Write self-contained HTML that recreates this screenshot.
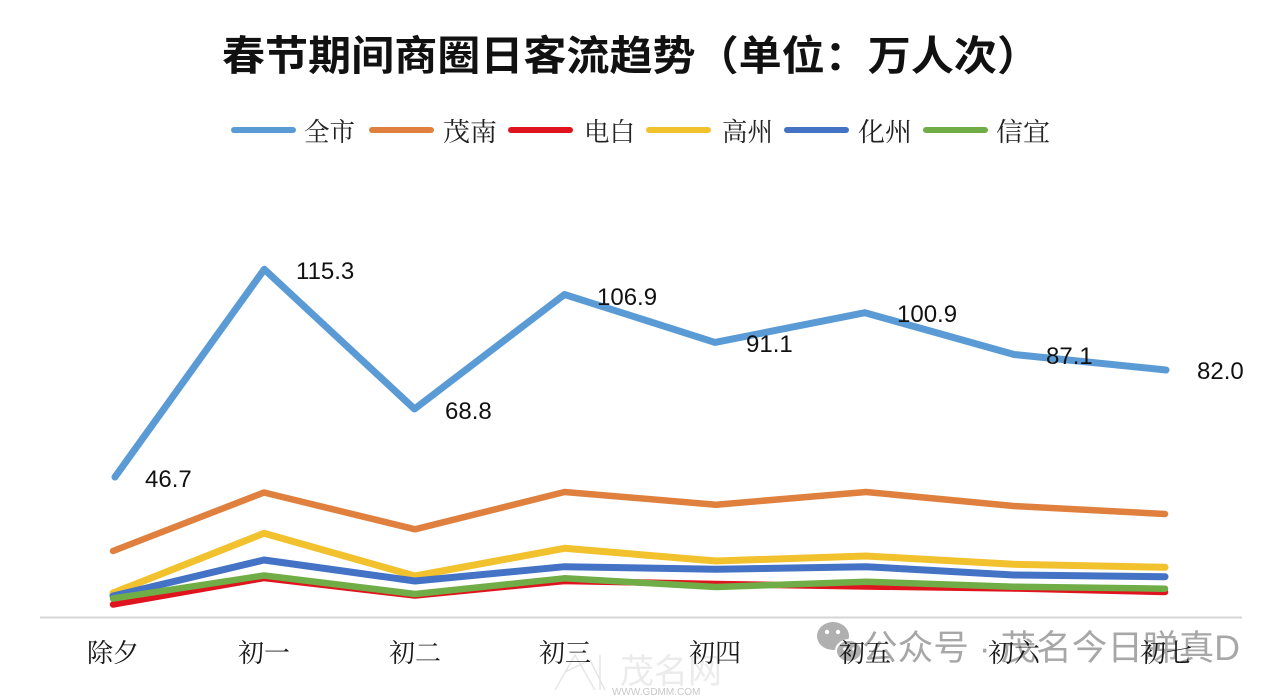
<!DOCTYPE html>
<html>
<head>
<meta charset="utf-8">
<style>
  html,body{margin:0;padding:0;background:#ffffff;}
  svg{display:block;}
</style>
</head>
<body>
<svg width="1280" height="697" viewBox="0 0 1280 697" xmlns="http://www.w3.org/2000/svg">
  <rect x="0" y="0" width="1280" height="697" fill="#ffffff"/>

  <!-- Title -->
  <text x="631" y="70" text-anchor="middle" font-family="'Liberation Sans','Noto Sans CJK SC',sans-serif" font-weight="700" font-size="41" fill="#111" textLength="818" lengthAdjust="spacingAndGlyphs">春节期间商圈日客流趋势（单位：万人次）</text>

  <!-- Legend -->
  <g stroke-width="6" stroke-linecap="round" fill="none">
    <line x1="234" y1="130" x2="293" y2="130" stroke="#5B9BD5"/>
    <line x1="372" y1="130" x2="431" y2="130" stroke="#E0803E"/>
    <line x1="511" y1="130" x2="570" y2="130" stroke="#E0141E"/>
    <line x1="649" y1="130" x2="708" y2="130" stroke="#F2C12E"/>
    <line x1="787" y1="130" x2="846" y2="130" stroke="#4472C4"/>
    <line x1="926" y1="130" x2="985" y2="130" stroke="#70AD47"/>
  </g>
  <g font-family="'Liberation Serif','Noto Serif CJK SC',serif" font-size="26" fill="#222">
    <text x="304" y="141" textLength="51" lengthAdjust="spacingAndGlyphs">全市</text>
    <text x="443" y="141" textLength="54" lengthAdjust="spacingAndGlyphs">茂南</text>
    <text x="584" y="141" textLength="51" lengthAdjust="spacingAndGlyphs">电白</text>
    <text x="722" y="141" textLength="51" lengthAdjust="spacingAndGlyphs">高州</text>
    <text x="858" y="141" textLength="54" lengthAdjust="spacingAndGlyphs">化州</text>
    <text x="996" y="141" textLength="54" lengthAdjust="spacingAndGlyphs">信宜</text>
  </g>

  <!-- Axis line -->
  <line x1="40" y1="617.5" x2="1242" y2="617.5" stroke="#d6d6d6" stroke-width="2"/>

  <!-- Series -->
  <g fill="none" stroke-linejoin="round" stroke-linecap="round">
    <polyline stroke="#5B9BD5" stroke-width="7" points="115,477 264.3,269.3 414.5,409 564.5,294.5 715,342.4 865,312.7 1014,354.5 1166,370"/>
    <polyline stroke="#E0803E" stroke-width="6.5" points="113,551 264,492.5 415,529.3 564.5,492 716,504.7 866,492 1013.5,506 1165,514"/>
    <polyline stroke="#E0141E" stroke-width="6.5" points="113,604.5 264,578 415,595.5 564.5,581 716,584 866,586.5 1013.5,588.5 1165,592"/>
    <polyline stroke="#F2C12E" stroke-width="7" points="113,593 264,533.3 415,576 564.5,548.3 716,561 866,556 1013.5,564.3 1165,567.3"/>
    <polyline stroke="#4472C4" stroke-width="7" points="113,596 264,560 415,581 564.5,566.7 716,569.3 866,566.7 1013.5,575 1165,576.7"/>
    <polyline stroke="#70AD47" stroke-width="6.5" points="113,598.5 264,575.5 415,594 564.5,578.3 716,587 866,581.7 1013.5,586.7 1165,588.7"/>
  </g>

  <!-- Data labels -->
  <g font-family="'Liberation Sans',sans-serif" font-size="24" fill="#111">
    <text x="145" y="487">46.7</text>
    <text x="296" y="279">115.3</text>
    <text x="445" y="419">68.8</text>
    <text x="597" y="305">106.9</text>
    <text x="746" y="352">91.1</text>
    <text x="897" y="322">100.9</text>
    <text x="1046" y="364">87.1</text>
    <text x="1197" y="379">82.0</text>
  </g>

  <!-- Watermark: GDMM logo (faint) -->
  <g opacity="0.25" stroke="#9a9a9a" stroke-width="1.5" fill="none">
    <path d="M555 690 L575 655 L595 690 M565 672 L590 660 L605 690 M600 655 L600 690"/>
  </g>
  <text x="620" y="683" font-family="'Liberation Sans','Noto Sans CJK SC',sans-serif" font-size="34" fill="#dcdcdc" opacity="0.55">茂名网</text>
  <text x="612" y="695" font-family="'Liberation Sans',sans-serif" font-size="10" fill="#c8c8c8">WWW.GDMM.COM</text>

  <!-- Watermark: WeChat -->
  <g fill="#a8a8a8" opacity="0.9">
    <ellipse cx="833" cy="636" rx="16" ry="14"/>
    <ellipse cx="849" cy="651" rx="13" ry="11" stroke="#fff" stroke-width="2"/>
    <circle cx="827" cy="632" r="2.2" fill="#fff"/>
    <circle cx="838" cy="632" r="2.2" fill="#fff"/>
    <circle cx="845" cy="649" r="1.8" fill="#fff"/>
    <circle cx="854" cy="649" r="1.8" fill="#fff"/>
  </g>
  <text x="862" y="660" font-family="'Liberation Sans','Noto Sans CJK SC',sans-serif" font-size="35" fill="#9e9e9e" opacity="0.9" textLength="378" lengthAdjust="spacingAndGlyphs">公众号 · 茂名今日睇真D</text>

  <!-- Category labels -->
  <g font-family="'Liberation Serif','Noto Serif CJK SC',serif" font-size="26" fill="#1a1a1a" text-anchor="middle">
    <text x="113" y="662">除夕</text>
    <text x="264" y="662">初一</text>
    <text x="415" y="662">初二</text>
    <text x="565" y="662">初三</text>
    <text x="715" y="662">初四</text>
    <text x="865" y="662">初五</text>
    <text x="1014" y="662">初六</text>
    <text x="1166" y="662">初七</text>
  </g>
</svg>
</body>
</html>
